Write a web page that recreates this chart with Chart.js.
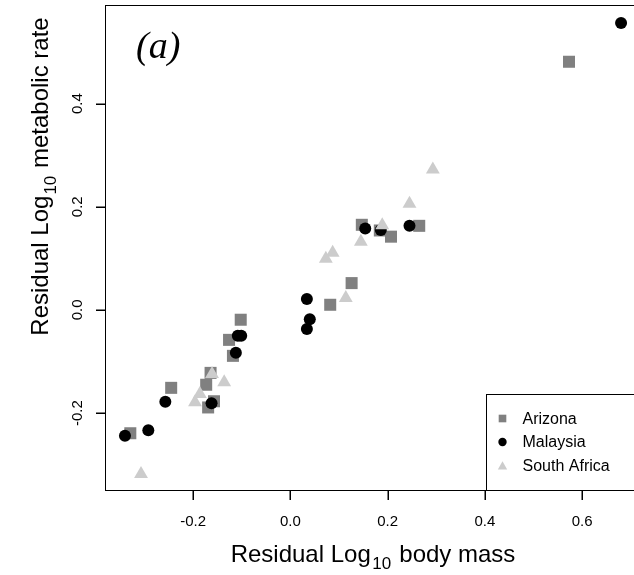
<!DOCTYPE html>
<html>
<head>
<meta charset="utf-8">
<title>Residual metabolic rate vs body mass</title>
<script src="https://cdn.jsdelivr.net/npm/chart.js@4.4.1/dist/chart.umd.min.js"></script>
<style>
  html, body { margin: 0; padding: 0; background: #fff; overflow: hidden; }
  #wrap { width: 660px; height: 575px; }
</style>
</head>
<body>
<div id="wrap"><canvas id="chart" width="660" height="575"></canvas></div>
<script>
// --- data ---
const seriesNames = ['Arizona', 'Malaysia', 'South Africa'];

const arizonaX = [0.573, 0.147, 0.184, 0.207, 0.265, 0.126, 0.082, -0.102, -0.126, -0.118, -0.164, -0.173, -0.245, -0.157, -0.169, -0.329];
const arizonaY = [0.481, 0.165, 0.154, 0.142, 0.163, 0.052, 0.010, -0.019, -0.058, -0.089, -0.122, -0.145, -0.151, -0.177, -0.189, -0.239];

const malaysiaX = [0.680, 0.154, 0.186, 0.245, 0.034, 0.040, 0.034, -0.108, -0.101, -0.112, -0.162, -0.257, -0.292, -0.340];
const malaysiaY = [0.556, 0.158, 0.155, 0.163, 0.021, -0.018, -0.037, -0.050, -0.050, -0.083, -0.181, -0.178, -0.233, -0.244];

const southAfricaX = [0.245, 0.293, 0.189, 0.145, 0.087, 0.073, 0.114, -0.161, -0.136, -0.186, -0.196, -0.307];
const southAfricaY = [0.206, 0.272, 0.164, 0.132, 0.111, 0.099, 0.023, -0.124, -0.140, -0.163, -0.179, -0.318];

const xTicks = [-0.2, 0.0, 0.2, 0.4, 0.6];
const yTicks = [-0.2, 0.0, 0.2, 0.4];

const FONT = "'Liberation Sans', Arial, Helvetica, sans-serif";
const TICK_LEN = 10;

const toPoints = (xs, ys) => xs.map((x, i) => ({ x, y: ys[i] }));

// marker styles, same for plot and legend
const markers = [
  { style: 'rect', color: '#808080', radius: 8.5, legendRadius: 5.4 },
  { style: 'circle', color: '#000000', radius: 6, legendRadius: 4.2 },
  { style: 'triangle', color: '#cccccc', radius: 8, legendRadius: 5.4 }
];

// text with a subscript part: parts = [{text, size, dy, gap}]
function drawParts(ctx, parts, cx, baseline) {
  let total = 0;
  parts.forEach(p => {
    ctx.font = `${p.size}px ${FONT}`;
    p.w = ctx.measureText(p.text).width + (p.gap || 0) * 2;
    total += p.w;
  });
  let x = cx - total / 2;
  ctx.textAlign = 'left';
  ctx.textBaseline = 'alphabetic';
  parts.forEach(p => {
    ctx.font = `${p.size}px ${FONT}`;
    ctx.fillText(p.text, x + (p.gap || 0), baseline + (p.dy || 0));
    x += p.w;
  });
}

const decorations = {
  id: 'decorations',
  afterDraw(chart) {
    const ctx = chart.ctx;
    const ca = chart.chartArea;
    const xs = chart.scales.x;
    const ys = chart.scales.y;
    ctx.save();
    ctx.strokeStyle = '#000';
    ctx.fillStyle = '#000';
    ctx.lineWidth = 1;
    // plot box
    ctx.strokeRect(ca.left - 0.5, ca.top + 0.5, ca.right - ca.left, ca.bottom - ca.top);

    // tick marks, outside the box
    xTicks.forEach(v => {
      const px = Math.round(xs.getPixelForValue(v));
      ctx.fillRect(px - 0.5, ca.bottom, 1.5, TICK_LEN);
    });
    yTicks.forEach(v => {
      const py = Math.round(ys.getPixelForValue(v));
      ctx.fillRect(ca.left - TICK_LEN, py - 0.5, TICK_LEN, 1.5);
    });

    // x axis title
    drawParts(ctx, [
      { text: 'Residual Log', size: 24 },
      { text: '10', size: 17, dy: 7.5, gap: 1.5 },
      { text: ' body mass', size: 24 }
    ], 373, 561.5);

    // y axis title
    ctx.save();
    ctx.translate(48, 176.5);
    ctx.rotate(-Math.PI / 2);
    drawParts(ctx, [
      { text: 'Residual Log', size: 24 },
      { text: '10', size: 17, dy: 7.5, gap: 1 },
      { text: ' metabolic rate', size: 24 }
    ], 0, 0);
    ctx.restore();

    // panel tag
    ctx.font = "italic 38px 'Liberation Serif', 'Times New Roman', serif";
    ctx.textAlign = 'left';
    ctx.textBaseline = 'alphabetic';
    ctx.fillText('(a)', 136, 58);

    // legend
    const lx = 486, ly = 394;
    ctx.strokeRect(lx + 0.5, ly + 0.5, 200, ca.bottom - ly);
    const rows = [418.5, 442, 465.5];
    ctx.font = `16px ${FONT}`;
    ctx.textBaseline = 'middle';
    seriesNames.forEach((name, i) => {
      const m = markers[i];
      ctx.fillStyle = m.color;
      Chart.helpers.drawPoint(ctx, { pointStyle: m.style, radius: m.legendRadius, rotation: 0, borderWidth: 0 }, 502.5, rows[i] + (m.style === 'triangle' ? 1.2 : 0));
      ctx.fillStyle = '#000';
      ctx.fillText(name, 522.5, rows[i] + 1);
    });
    ctx.restore();
  }
};

const seriesData = [
  toPoints(arizonaX, arizonaY),
  toPoints(malaysiaX, malaysiaY),
  toPoints(southAfricaX, southAfricaY)
];

const datasets = seriesNames.map((name, i) => ({
  label: name,
  data: seriesData[i],
  pointStyle: markers[i].style,
  pointRadius: markers[i].radius,
  pointHoverRadius: markers[i].radius,
  pointBackgroundColor: markers[i].color,
  pointBorderWidth: 0,
  showLine: false,
  order: 3 - i // South Africa on top, Arizona underneath
}));

new Chart(document.getElementById('chart'), {
  type: 'scatter',
  data: { datasets },
  options: {
    responsive: false,
    animation: false,
    devicePixelRatio: 1,
    layout: { autoPadding: false, padding: { left: 0, top: 5, right: 19, bottom: 0 } },
    plugins: {
      legend: { display: false },
      tooltip: { enabled: false }
    },
    scales: {
      x: {
        type: 'linear',
        min: -0.379,
        max: 0.721,
        afterBuildTicks: s => { s.ticks = xTicks.map(v => ({ value: v })); },
        afterFit: s => { s.height = 85; s.paddingLeft = 0; s.paddingRight = 0; },
        border: { display: false },
        grid: { display: false, tickLength: TICK_LEN },
        ticks: {
          autoSkip: false,
          minRotation: 0,
          maxRotation: 0,
          padding: 13,
          color: '#000',
          font: { family: FONT, size: 15 },
          callback: v => Number(v).toFixed(1)
        }
      },
      y: {
        type: 'linear',
        min: -0.349,
        max: 0.591,
        afterBuildTicks: s => { s.ticks = yTicks.map(v => ({ value: v })); },
        afterFit: s => { s.width = 106; s.paddingTop = 0; s.paddingBottom = 0; },
        border: { display: false },
        grid: { display: false, tickLength: TICK_LEN },
        ticks: {
          autoSkip: false,
          minRotation: 90,
          maxRotation: 90,
          crossAlign: 'center',
          padding: 5,
          color: '#000',
          font: { family: FONT, size: 15 },
          callback: v => Number(v).toFixed(1)
        }
      }
    }
  },
  plugins: [decorations]
});
</script>
</body>
</html>
